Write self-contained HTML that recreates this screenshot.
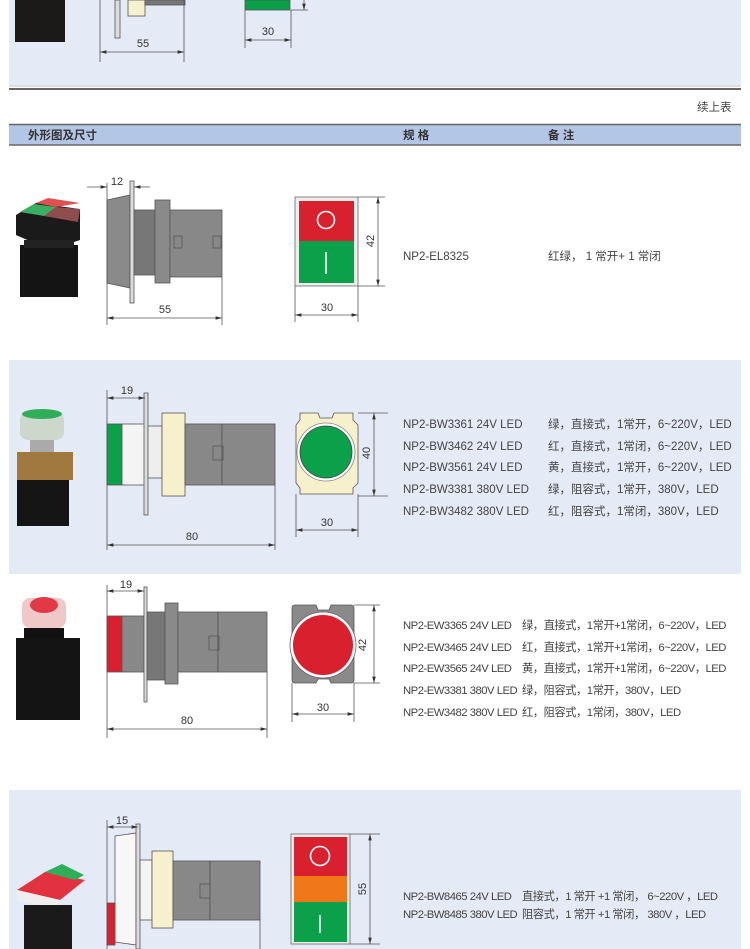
<!DOCTYPE html>
<html><head><meta charset="utf-8"><style>
html,body{margin:0;padding:0;background:#fff;}
svg{display:block;}
text{font-family:"Liberation Sans","Noto Sans CJK SC",sans-serif;fill:#444;}
.t{font-size:11.5px;}
.d{font-size:11px;fill:#333;}
.c{font-size:11.3px;letter-spacing:-0.5px;}
</style></head><body>
<svg width="750" height="949" viewBox="0 0 750 949" xmlns="http://www.w3.org/2000/svg">
<defs>
<marker id="a" markerWidth="8" markerHeight="6" refX="8" refY="3" orient="auto-start-reverse"><path d="M0,0.8 L8,3 L0,5.2 z" fill="#333"/></marker>
</defs>
<g stroke="#555" stroke-width="0.8">
<rect x="9" y="0" width="732" height="85" fill="#e4eaf6" stroke="none"/>
<rect x="9" y="360" width="732" height="214" fill="#e4eaf6" stroke="none"/>
<rect x="9" y="790" width="732" height="159" fill="#e4eaf6" stroke="none"/>
<line x1="9" y1="89" x2="741" y2="89" stroke="#666" stroke-width="2"/>
<line x1="9" y1="86" x2="741" y2="86" stroke="#bbb" stroke-width="1"/>
<rect x="9" y="124" width="732" height="21" fill="#b4c6e6" stroke="none"/>
<line x1="9" y1="124.5" x2="741" y2="124.5" stroke="#666" stroke-width="1.5"/>
<line x1="9" y1="145" x2="741" y2="145" stroke="#666" stroke-width="1.5"/>

<rect x="15" y="0" width="50" height="42" fill="#1c1a18" stroke="none"/>
<rect x="115" y="0" width="5" height="38" fill="#ddd"/>
<rect x="128" y="0" width="17" height="16" fill="#f7f0cc"/>
<rect x="145" y="0" width="40" height="5" fill="#777"/>
<line x1="100" y1="0" x2="100" y2="62"/><line x1="184" y1="0" x2="184" y2="62"/>
<line x1="100" y1="52" x2="184" y2="52" marker-start="url(#a)" marker-end="url(#a)"/>
<rect x="245" y="0" width="45" height="10" fill="#0aa04a" stroke="#555"/>
<line x1="245" y1="10" x2="245" y2="48"/><line x1="291" y1="10" x2="291" y2="48"/>
<line x1="245" y1="40" x2="291" y2="40" marker-start="url(#a)" marker-end="url(#a)"/>
<line x1="291" y1="10" x2="308" y2="10"/><line x1="304" y1="0" x2="304" y2="10" marker-end="url(#a)"/>

<!-- row1 photo -->
<g stroke="none">
<polygon points="16,215 36,203 80,209 80,240 50,250 16,235" fill="#1a1a1a"/>
<polygon points="20,212 34,204 56,207 44,216" fill="#3cae63"/>
<polygon points="36,203 48,198 80,203 56,207" fill="#e05050"/>
<polygon points="44,216 56,207 80,209 78,222" fill="#e07070" opacity="0.6"/>
<rect x="20" y="245" width="58" height="52" fill="#141414"/>
<rect x="24" y="240" width="50" height="8" fill="#222"/>
</g>
<polygon points="107,200 130,195 130,288 107,283" fill="#8a8a8a"/>
<rect x="130" y="181" width="4" height="122" fill="#ddd"/>
<rect x="134" y="210" width="21" height="65" fill="#777"/>
<rect x="155" y="200" width="15" height="83" fill="#8a8a8a"/>
<rect x="170" y="210" width="52" height="67" fill="#888"/>
<rect x="174" y="236" width="8" height="12" fill="none"/>
<rect x="213" y="236" width="8" height="12" fill="none"/>
<line x1="87" y1="187" x2="107" y2="187" marker-end="url(#a)"/>
<line x1="150" y1="187" x2="134" y2="187" marker-end="url(#a)"/>
<line x1="107" y1="183" x2="107" y2="325"/><line x1="222" y1="277" x2="222" y2="325"/>
<line x1="107" y1="318" x2="222" y2="318" marker-start="url(#a)" marker-end="url(#a)"/>
<rect x="295" y="197" width="63" height="89" fill="#eee" stroke="#666"/>
<rect x="299" y="201" width="55" height="40" fill="#d8202e" stroke="none"/>
<rect x="299" y="241" width="55" height="42" fill="#0ba14b" stroke="none"/>
<circle cx="326" cy="220" r="8.5" fill="none" stroke="#fff" stroke-width="1.6"/>
<line x1="326" y1="252" x2="326" y2="274" stroke="#fff" stroke-width="1.6"/>
<line x1="358" y1="197" x2="385" y2="197"/><line x1="358" y1="286" x2="385" y2="286"/>
<line x1="378" y1="197" x2="378" y2="286" marker-start="url(#a)" marker-end="url(#a)"/>
<line x1="295" y1="286" x2="295" y2="322"/><line x1="358" y1="286" x2="358" y2="322"/>
<line x1="295" y1="315" x2="358" y2="315" marker-start="url(#a)" marker-end="url(#a)"/>

<!-- row2 -->
<g stroke="none">
<rect x="20" y="412" width="44" height="28" rx="8" fill="#ccd8cc"/>
<ellipse cx="42" cy="414" rx="20" ry="5" fill="#2fae5a"/>
<rect x="30" y="440" width="24" height="12" fill="#aaa"/>
<rect x="17" y="452" width="56" height="28" fill="#a07840"/>
<rect x="17" y="480" width="52" height="46" fill="#151515"/>
</g>
<rect x="107" y="424" width="15" height="61" fill="#0ba14b"/>
<rect x="122" y="424" width="23" height="61" fill="#f4f4f4"/>
<rect x="144" y="393" width="4" height="122" fill="#ddd"/>
<rect x="148" y="426" width="14" height="52" fill="#eee"/>
<rect x="162" y="413" width="23" height="83" fill="#f7f0cc"/>
<rect x="185" y="424" width="37" height="61" fill="#888"/>
<rect x="222" y="424" width="53" height="61" fill="#888"/>
<rect x="213" y="446" width="10" height="14" fill="none"/>
<line x1="107" y1="398" x2="145" y2="398" marker-start="url(#a)" marker-end="url(#a)"/>
<line x1="107" y1="390" x2="107" y2="550"/><line x1="275" y1="485" x2="275" y2="550"/>
<line x1="107" y1="545" x2="275" y2="545" marker-start="url(#a)" marker-end="url(#a)"/>
<path d="M300,413 L318,413 L320,418 L332,418 L334,413 L353,413 L353,420 L358,425 L358,483 L353,488 L353,494 L300,494 L300,488 L296,483 L296,425 L300,420 Z" fill="#f7f0cc"/>
<circle cx="326" cy="452" r="29" fill="#fff" stroke="#888"/>
<circle cx="326" cy="452" r="26" fill="#0ba14b" stroke="#444"/>
<line x1="358" y1="413" x2="388" y2="413"/><line x1="358" y1="496" x2="388" y2="496"/>
<line x1="374" y1="413" x2="374" y2="496" marker-start="url(#a)" marker-end="url(#a)"/>
<line x1="296" y1="494" x2="296" y2="537"/><line x1="358" y1="494" x2="358" y2="537"/>
<line x1="296" y1="530" x2="358" y2="530" marker-start="url(#a)" marker-end="url(#a)"/>

<!-- row3 -->
<g stroke="none">
<rect x="22" y="598" width="44" height="30" rx="8" fill="#f0c8c8"/>
<ellipse cx="44" cy="605" rx="14" ry="8" fill="#e23a45"/>
<rect x="24" y="628" width="40" height="12" fill="#111"/>
<rect x="16" y="638" width="64" height="82" fill="#141414"/>
</g>
<rect x="107" y="616" width="15" height="56" fill="#d8202e"/>
<rect x="122" y="616" width="22" height="56" fill="#888"/>
<rect x="144" y="587" width="3" height="115" fill="#ddd"/>
<rect x="147" y="612" width="18" height="68" fill="#777"/>
<rect x="165" y="603" width="13" height="81" fill="#8a8a8a"/>
<rect x="178" y="612" width="40" height="60" fill="#888"/>
<rect x="218" y="612" width="49" height="60" fill="#888"/>
<rect x="209" y="636" width="10" height="14" fill="none"/>
<line x1="107" y1="591" x2="144" y2="591" marker-start="url(#a)" marker-end="url(#a)"/>
<line x1="107" y1="585" x2="107" y2="738"/><line x1="267" y1="672" x2="267" y2="738"/>
<line x1="107" y1="729" x2="267" y2="729" marker-start="url(#a)" marker-end="url(#a)"/>
<path d="M295,605 L316,605 L318,610 L329,610 L331,605 L351,605 Q354,605 354,608 L354,680 Q354,683 351,683 L331,683 L329,679 L318,679 L316,683 L295,683 Q292,683 292,680 L292,608 Q292,605 295,605 Z" fill="#8a8a8a"/>
<circle cx="323" cy="645" r="33" fill="#fff" stroke="#666"/>
<circle cx="323" cy="645" r="30" fill="#d8202e" stroke="none"/>
<line x1="354" y1="605" x2="380" y2="605"/><line x1="354" y1="683" x2="380" y2="683"/>
<line x1="374" y1="605" x2="374" y2="683" marker-start="url(#a)" marker-end="url(#a)"/>
<line x1="292" y1="683" x2="292" y2="722"/><line x1="354" y1="683" x2="354" y2="722"/>
<line x1="292" y1="714" x2="354" y2="714" marker-start="url(#a)" marker-end="url(#a)"/>

<!-- row4 -->
<g stroke="none">
<polygon points="17,890 45,872 85,880 60,900" fill="#e2323f"/>
<polygon points="45,872 62,864 84,875 75,880" fill="#2fae5a"/>
<polygon points="17,890 60,900 60,910 17,900" fill="#eee"/>
<rect x="24" y="905" width="48" height="44" fill="#1a1a1a"/>
</g>
<polygon points="115,836 136,833 136,945 115,942" fill="#f7f7f7"/>
<rect x="136" y="824" width="4" height="125" fill="#ddd"/>
<rect x="107" y="903" width="8" height="42" fill="#d8202e"/>
<rect x="140" y="860" width="12" height="60" fill="#f4f4f4"/>
<rect x="152" y="851" width="21" height="77" fill="#f7f0cc"/>
<rect x="173" y="861" width="37" height="59" fill="#888"/>
<rect x="210" y="861" width="50" height="59" fill="#888"/>
<rect x="200" y="884" width="10" height="14" fill="none"/>
<line x1="107" y1="827" x2="138" y2="827" marker-start="url(#a)" marker-end="url(#a)"/>
<line x1="107" y1="820" x2="107" y2="949"/><line x1="260" y1="920" x2="260" y2="949"/>
<rect x="291" y="834" width="59" height="110" fill="#eee" stroke="#666"/>
<rect x="294" y="837" width="53" height="39" fill="#d8202e" stroke="none"/>
<rect x="294" y="876" width="53" height="26" fill="#f07818" stroke="none"/>
<rect x="294" y="902" width="53" height="40" fill="#0ba14b" stroke="none"/>
<circle cx="320" cy="856" r="9.5" fill="none" stroke="#fff" stroke-width="1.6"/>
<line x1="320" y1="915" x2="320" y2="933" stroke="#fff" stroke-width="1.6"/>
<line x1="350" y1="834" x2="380" y2="834"/><line x1="350" y1="944" x2="380" y2="944"/>
<line x1="370" y1="834" x2="370" y2="944" marker-start="url(#a)" marker-end="url(#a)"/>
</g>

<text class="d" x="143" y="47" text-anchor="middle">55</text>
<text class="d" x="268" y="35" text-anchor="middle">30</text>
<text class="d" x="117" y="185" text-anchor="middle">12</text>
<text class="d" x="165" y="313" text-anchor="middle">55</text>
<text class="d" x="327" y="311" text-anchor="middle">30</text>
<text class="d" x="374" y="241" text-anchor="middle" transform="rotate(-90 374 241)">42</text>
<text class="d" x="127" y="394" text-anchor="middle">19</text>
<text class="d" x="192" y="540" text-anchor="middle">80</text>
<text class="d" x="327" y="526" text-anchor="middle">30</text>
<text class="d" x="370" y="453" text-anchor="middle" transform="rotate(-90 370 453)">40</text>
<text class="d" x="126" y="588" text-anchor="middle">19</text>
<text class="d" x="187" y="724" text-anchor="middle">80</text>
<text class="d" x="323" y="711" text-anchor="middle">30</text>
<text class="d" x="366" y="645" text-anchor="middle" transform="rotate(-90 366 645)">42</text>
<text class="d" x="122" y="824" text-anchor="middle">15</text>
<text class="d" x="366" y="889" text-anchor="middle" transform="rotate(-90 366 889)">55</text>

<text x="697" y="111" style="font-size:11.5px">续上表</text>
<text x="28" y="139" style="font-size:11.5px;font-weight:bold;fill:#333">外形图及尺寸</text>
<text x="403" y="139" style="font-size:11.5px;font-weight:bold;fill:#333">规 格</text>
<text x="548" y="139" style="font-size:11.5px;font-weight:bold;fill:#333">备 注</text>

<text class="t" x="403" y="260">NP2-EL8325</text>
<text class="t" x="548" y="260">红绿， 1 常开+ 1 常闭</text>

<text class="t" x="403" y="428">NP2-BW3361 24V LED</text>
<text class="t" x="403" y="450">NP2-BW3462 24V LED</text>
<text class="t" x="403" y="471">NP2-BW3561 24V LED</text>
<text class="t" x="403" y="493">NP2-BW3381 380V LED</text>
<text class="t" x="403" y="515">NP2-BW3482 380V LED</text>
<text class="t" x="548" y="428">绿，直接式，1常开，6~220V，LED</text>
<text class="t" x="548" y="450">红，直接式，1常闭，6~220V，LED</text>
<text class="t" x="548" y="471">黄，直接式，1常开，6~220V，LED</text>
<text class="t" x="548" y="493">绿，阻容式，1常开，380V，LED</text>
<text class="t" x="548" y="515">红，阻容式，1常闭，380V，LED</text>

<text class="c" x="403" y="629">NP2-EW3365 24V LED</text>
<text class="c" x="403" y="651">NP2-EW3465 24V LED</text>
<text class="c" x="403" y="672">NP2-EW3565 24V LED</text>
<text class="c" x="403" y="694">NP2-EW3381 380V LED</text>
<text class="c" x="403" y="716">NP2-EW3482 380V LED</text>
<text class="c" x="522" y="629">绿，直接式，1常开+1常闭，6~220V，LED</text>
<text class="c" x="522" y="651">红，直接式，1常开+1常闭，6~220V，LED</text>
<text class="c" x="522" y="672">黄，直接式，1常开+1常闭，6~220V，LED</text>
<text class="c" x="522" y="694">绿，阻容式，1常开，380V，LED</text>
<text class="c" x="522" y="716">红，阻容式，1常闭，380V，LED</text>

<text class="c" x="403" y="900">NP2-BW8465 24V LED</text>
<text class="c" x="403" y="918">NP2-BW8485 380V LED</text>
<text class="c" x="522" y="900">直接式，1 常开 +1 常闭， 6~220V ，LED</text>
<text class="c" x="522" y="918">阻容式，1 常开 +1 常闭， 380V ，LED</text>
</svg>
</body></html>
